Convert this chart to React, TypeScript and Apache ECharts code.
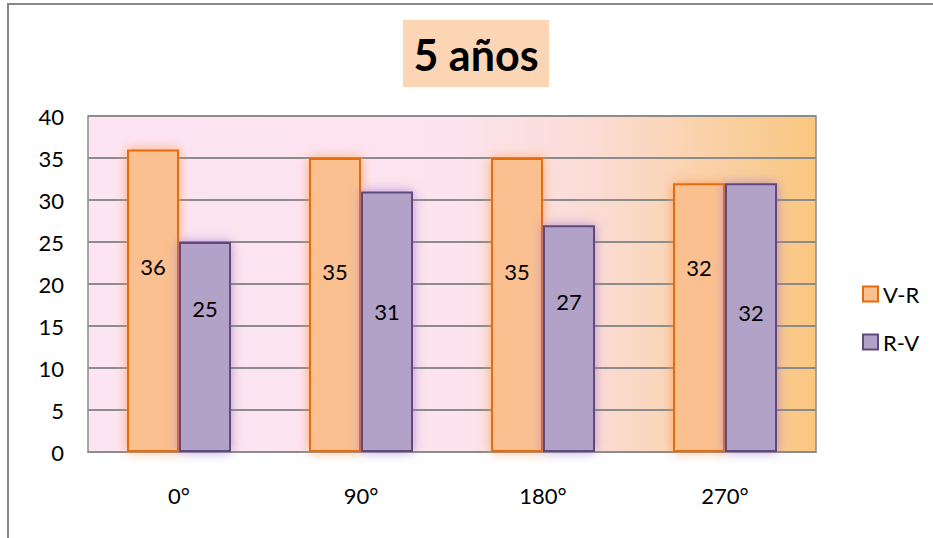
import React, { useEffect, useRef } from "react";
import * as echarts from "echarts";

const titleText = "5 años";
const categories = ["0°", "90°", "180°", "270°"];
const seriesNames = ["V-R", "R-V"];
const vrValues = [36, 35, 35, 32];
const rvValues = [25, 31, 27, 32];
// vertical shift of each in-bar label (px), as placed in the original
const vrLabelShift = [-34, -34, -34, -50];
const rvLabelShift = [-39, -10, -37, -5];

const FONT = "Lato, 'Noto Sans', sans-serif";

export default function App() {
  const ref = useRef<HTMLDivElement>(null);
  useEffect(() => {
    if (!ref.current) return;
    const chart = echarts.init(ref.current, undefined, { renderer: "svg" });
    const mk = (vals: number[], shifts: number[]) =>
      vals.map((v, i) => ({ value: v, label: { offset: [0, shifts[i]] } }));
    chart.setOption({
      animation: false,
      backgroundColor: "#ffffff",
      textStyle: { fontFamily: FONT },
      graphic: [
        {
          type: "rect",
          shape: { x: 8, y: 4, width: 960, height: 580 },
          style: { fill: "none", stroke: "#878787", lineWidth: 2 },
          z: 100,
        },
        {
          type: "rect",
          shape: { x: 403, y: 20, width: 146, height: 67 },
          style: { fill: "#FCD5B5" },
          z: 1,
        },
        {
          type: "text",
          x: 476,
          y: 54,
          style: {
            text: titleText,
            fontFamily: FONT,
            fontWeight: "bold",
            fontSize: 43,
            fill: "#000000",
            align: "center",
            verticalAlign: "middle",
          },
          z: 2,
        },
      ],
      grid: {
        left: 88,
        right: 117,
        top: 116,
        bottom: 86,
        show: true,
        borderColor: "#8C8C8C",
        borderWidth: 1.5,
        backgroundColor: {
          type: "linear",
          x: 0,
          y: 0,
          x2: 1,
          y2: 0,
          colorStops: [
            { offset: 0, color: "#FDE4F2" },
            { offset: 0.5, color: "#FCE3EE" },
            { offset: 0.7, color: "#FBDCD4" },
            { offset: 1, color: "#F9C77F" },
          ],
        },
      },
      legend: {
        orient: "vertical",
        left: 857,
        top: 278,
        itemWidth: 15,
        itemHeight: 15,
        itemGap: 26,
        icon: "rect",
        textStyle: { fontFamily: FONT, fontSize: 22, color: "#000", lineHeight: 22 },
        data: seriesNames,
      },
      xAxis: {
        type: "category",
        data: categories,
        axisLine: { show: true, lineStyle: { color: "#8C8C8C", width: 1.5 } },
        axisTick: { show: false },
        axisLabel: { fontFamily: FONT, fontSize: 22, color: "#000", margin: 32 },
      },
      yAxis: {
        type: "value",
        min: 0,
        max: 40,
        interval: 5,
        axisLine: { show: false },
        axisTick: { show: false },
        splitLine: { lineStyle: { color: "#8C8C8C", width: 2 } },
        axisLabel: { fontFamily: FONT, fontSize: 22, color: "#000", margin: 24 },
      },
      series: [
        {
          name: seriesNames[0],
          type: "bar",
          barWidth: 52,
          barGap: "0%",
          data: mk(vrValues, vrLabelShift),
          itemStyle: {
            color: "#FAC090",
            borderColor: "#E46C0A",
            borderWidth: 2,
            shadowBlur: 12,
            shadowColor: "rgba(247,150,70,0.75)",
          },
          label: {
            show: true,
            position: "inside",
            fontFamily: FONT,
            fontSize: 22,
            color: "#000",
          },
        },
        {
          name: seriesNames[1],
          type: "bar",
          barWidth: 52,
          barGap: "0%",
          data: mk(rvValues, rvLabelShift),
          itemStyle: {
            color: "#B3A2C7",
            borderColor: "#604A7B",
            borderWidth: 2,
            shadowBlur: 12,
            shadowColor: "rgba(150,110,200,0.7)",
          },
          label: {
            show: true,
            position: "inside",
            fontFamily: FONT,
            fontSize: 22,
            color: "#000",
          },
        },
      ],
    });
    return () => chart.dispose();
  }, []);
  return (
    <div
      ref={ref}
      style={{ position: "fixed", left: 0, top: 0, width: 933, height: 538 }}
    />
  );
}
